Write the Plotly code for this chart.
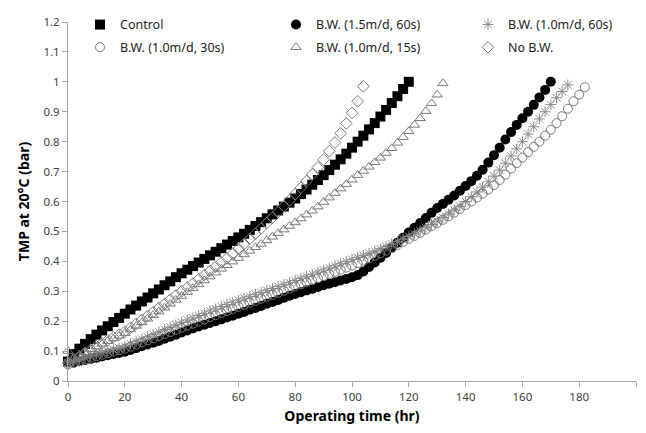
import plotly.graph_objects as go

# Sampling times (hr), shared by all series
time_hr = [0, 2, 4, 6, 8, 10, 12, 14, 16, 18, 20, 22, 24, 26, 28, 30, 32, 34, 36, 38,
           40, 42, 44, 46, 48, 50, 52, 54, 56, 58, 60, 62, 64, 66, 68, 70, 72, 74, 76, 78,
           80, 82, 84, 86, 88, 90, 92, 94, 96, 98, 100, 102, 104, 106, 108, 110, 112, 114,
           116, 118, 120, 122, 124, 126, 128, 130, 132, 134, 136, 138, 140, 142, 144, 146,
           148, 150, 152, 154, 156, 158, 160, 162, 164, 166, 168, 170, 172, 174, 176, 178,
           180, 182]

control = [0.065, 0.09, 0.108, 0.124, 0.14, 0.155, 0.169, 0.183, 0.197, 0.211, 0.225, 0.239,
           0.252, 0.266, 0.279, 0.293, 0.306, 0.32, 0.333, 0.347, 0.36, 0.372, 0.384, 0.396,
           0.408, 0.42, 0.432, 0.444, 0.456, 0.468, 0.48, 0.492, 0.505, 0.518, 0.531, 0.544,
           0.557, 0.57, 0.583, 0.596, 0.61, 0.625, 0.64, 0.656, 0.672, 0.688, 0.705, 0.723,
           0.741, 0.76, 0.78, 0.8, 0.82, 0.841, 0.862, 0.884, 0.906, 0.929, 0.952, 0.976, 1.0]

bw_15_60 = [0.065, 0.062, 0.066, 0.07, 0.074, 0.078, 0.082, 0.086, 0.09, 0.094, 0.098, 0.104,
            0.11, 0.116, 0.122, 0.128, 0.134, 0.141, 0.148, 0.155, 0.162, 0.169, 0.176, 0.182,
            0.188, 0.194, 0.2, 0.206, 0.212, 0.218, 0.225, 0.231, 0.238, 0.244, 0.251, 0.258,
            0.264, 0.271, 0.278, 0.285, 0.291, 0.297, 0.303, 0.308, 0.314, 0.32, 0.325, 0.33,
            0.336, 0.341, 0.347, 0.354, 0.366, 0.381, 0.396, 0.412, 0.428, 0.445, 0.462, 0.479,
            0.496, 0.512, 0.528, 0.545, 0.562, 0.578, 0.592, 0.606, 0.62, 0.636, 0.652, 0.668,
            0.686, 0.706, 0.73, 0.755, 0.78, 0.807, 0.832, 0.856, 0.878, 0.9, 0.923, 0.948,
            0.973, 1.0]

bw_10_60 = [0.06, 0.066, 0.072, 0.078, 0.084, 0.09, 0.095, 0.1, 0.105, 0.11, 0.116, 0.124,
            0.132, 0.14, 0.148, 0.156, 0.164, 0.172, 0.18, 0.188, 0.196, 0.204, 0.211, 0.219,
            0.226, 0.234, 0.241, 0.249, 0.256, 0.263, 0.27, 0.277, 0.283, 0.29, 0.296, 0.303,
            0.309, 0.316, 0.322, 0.329, 0.336, 0.343, 0.35, 0.357, 0.364, 0.371, 0.378, 0.385,
            0.392, 0.399, 0.406, 0.413, 0.42, 0.427, 0.434, 0.442, 0.45, 0.458, 0.466, 0.474,
            0.483, 0.492, 0.502, 0.512, 0.523, 0.534, 0.546, 0.558, 0.571, 0.584, 0.6, 0.616,
            0.632, 0.648, 0.666, 0.685, 0.705, 0.728, 0.752, 0.776, 0.8, 0.825, 0.85, 0.876,
            0.9, 0.924, 0.947, 0.968, 0.99]

bw_10_30 = [0.055, 0.06, 0.066, 0.072, 0.078, 0.083, 0.088, 0.093, 0.098, 0.103, 0.108, 0.115,
            0.122, 0.129, 0.136, 0.143, 0.15, 0.157, 0.164, 0.171, 0.178, 0.185, 0.192, 0.199,
            0.206, 0.213, 0.22, 0.227, 0.234, 0.241, 0.248, 0.255, 0.262, 0.268, 0.275, 0.282,
            0.288, 0.295, 0.302, 0.309, 0.316, 0.323, 0.33, 0.337, 0.344, 0.351, 0.358, 0.365,
            0.372, 0.379, 0.386, 0.394, 0.402, 0.41, 0.418, 0.427, 0.436, 0.445, 0.455, 0.465,
            0.475, 0.485, 0.495, 0.506, 0.517, 0.528, 0.539, 0.551, 0.563, 0.575, 0.588, 0.6,
            0.613, 0.626, 0.64, 0.655, 0.672, 0.69, 0.71, 0.728, 0.747, 0.765, 0.783, 0.8,
            0.82, 0.84, 0.862, 0.885, 0.91, 0.935, 0.957, 0.982]

bw_10_15 = [0.1, 0.075, 0.085, 0.096, 0.106, 0.115, 0.124, 0.133, 0.142, 0.151, 0.16, 0.172,
            0.184, 0.196, 0.208, 0.22, 0.232, 0.245, 0.258, 0.271, 0.284, 0.297, 0.31, 0.323,
            0.336, 0.349, 0.362, 0.375, 0.387, 0.399, 0.411, 0.423, 0.435, 0.447, 0.458, 0.47,
            0.482, 0.494, 0.506, 0.518, 0.53, 0.543, 0.556, 0.569, 0.583, 0.598, 0.613, 0.628,
            0.643, 0.658, 0.673, 0.688, 0.702, 0.716, 0.731, 0.746, 0.762, 0.778, 0.796, 0.815,
            0.835, 0.856, 0.878, 0.902, 0.928, 0.957, 0.995]

no_bw = [0.06, 0.072, 0.083, 0.094, 0.105, 0.116, 0.126, 0.136, 0.146, 0.155, 0.165, 0.178,
         0.191, 0.204, 0.217, 0.23, 0.244, 0.258, 0.272, 0.286, 0.3, 0.313, 0.326, 0.34,
         0.354, 0.368, 0.382, 0.396, 0.41, 0.426, 0.442, 0.458, 0.475, 0.492, 0.51, 0.528,
         0.546, 0.565, 0.584, 0.604, 0.625, 0.646, 0.668, 0.691, 0.714, 0.74, 0.768, 0.797,
         0.828, 0.861, 0.896, 0.935, 0.985]

series_names = ["Control", "B.W. (1.5m/d, 60s)", "B.W. (1.0m/d, 60s)",
                "B.W. (1.0m/d, 30s)", "B.W. (1.0m/d, 15s)", "No B.W."]

x_ticks = [0, 20, 40, 60, 80, 100, 120, 140, 160, 180, 200]
y_ticks = [0, 0.1, 0.2, 0.3, 0.4, 0.5, 0.6, 0.7, 0.8, 0.9, 1.0, 1.1, 1.2]
y_tick_labels = ["0", "0.1", "0.2", "0.3", "0.4", "0.5", "0.6", "0.7", "0.8", "0.9", "1", "1.1", "1.2"]

GRAY = "#7a7a7a"
styles = [
    dict(symbol="square", color="black", size=10, line=dict(width=0)),
    dict(symbol="circle", color="black", size=10, line=dict(width=0)),
    dict(symbol="asterisk-open", color="#8a8a8a", size=9, line=dict(width=1, color="#8a8a8a")),
    dict(symbol="circle-open", color=GRAY, size=9, line=dict(width=1, color=GRAY)),
    dict(symbol="triangle-up-open", color=GRAY, size=9, line=dict(width=1, color=GRAY)),
    dict(symbol="diamond-open", color=GRAY, size=9, line=dict(width=1, color=GRAY)),
]
data = [control, bw_15_60, bw_10_60, bw_10_30, bw_10_15, no_bw]
legend_ids = ["legend", "legend2", "legend3", "legend4", "legend5", "legend6"]

fig = go.Figure()
for name, vals, st, lg in zip(series_names, data, styles, legend_ids):
    fig.add_trace(go.Scatter(
        x=time_hr[:len(vals)], y=vals, mode="markers", name=name,
        marker=st, legend=lg, showlegend=True, cliponaxis=False))

# plot area in pixels: x 68..636, y 16..381
L, R, T, B = 68, 10, 16, 52
W, H = 646, 433
pw, ph = W - L - R, H - T - B

def lx(px):
    return (px - L) / pw

def ly(py):
    return (H - B - py) / ph

legend_pos = [(80, 19), (276, 19), (468, 19), (80, 42), (276, 42), (468, 42)]
legend_font = dict(family="Noto Sans, Open Sans, sans-serif", size=12.5, color="#222222")
layout_legends = {}
for lg, (px, py) in zip(legend_ids, legend_pos):
    layout_legends[lg] = dict(x=lx(px), y=ly(py), xanchor="left", yanchor="middle",
                              bgcolor="rgba(0,0,0,0)", font=legend_font, itemwidth=30,
                              borderwidth=0, visible=True)

axis_common = dict(showline=True, linecolor="#a6a6a6", linewidth=1, ticks="outside",
                   ticklen=5, tickcolor="#a6a6a6", showgrid=False, zeroline=False,
                   tickfont=dict(family="Noto Sans, Open Sans, sans-serif", size=11.5,
                                 color="#404040"))

fig.update_layout(
    width=W, height=H,
    showlegend=True,
    margin=dict(l=L, r=R, t=T, b=B),
    paper_bgcolor="white", plot_bgcolor="white",
    xaxis=dict(range=[0, 200], tickvals=x_ticks,
               title=dict(text="<b>Operating time (hr)</b>", standoff=8,
                          font=dict(family="Noto Sans, Open Sans, sans-serif", size=14,
                                    color="black")),
               **axis_common),
    yaxis=dict(range=[0, 1.2], tickvals=y_ticks, ticktext=y_tick_labels,
               title=dict(text="<b>TMP at 20°C (bar)</b>", standoff=10,
                          font=dict(family="Noto Sans, Open Sans, sans-serif", size=14,
                                    color="black")),
               **axis_common),
    **layout_legends,
)

fig.write_html("out.html")
